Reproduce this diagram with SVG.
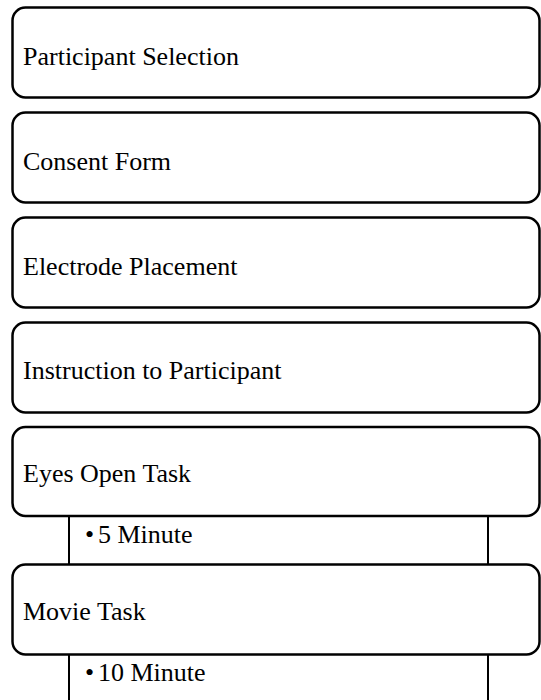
<svg xmlns="http://www.w3.org/2000/svg" width="541" height="700" viewBox="0 0 541 700">
<style>
.box{fill:#fff;stroke:#000;stroke-width:2.5}
.sub{fill:#fff;stroke:#000;stroke-width:2}
.t{font-family:"Liberation Serif","Times New Roman",serif;font-size:26px;fill:#000}
</style>
<rect width="541" height="700" fill="#fff"/>
<g id="connectors">
<rect id="sub1" class="sub" x="69" y="505" width="419" height="70"/>
<rect id="sub2" class="sub" x="69" y="645" width="419" height="70"/>
</g>
<g id="n1"><rect class="box" x="12.5" y="7.5" width="527" height="90" rx="13"/><text class="t" x="23" y="65">Participant Selection</text></g>
<g id="n2"><rect class="box" x="12.5" y="112.5" width="527" height="90" rx="13"/><text class="t" x="23" y="170">Consent Form</text></g>
<g id="n3"><rect class="box" x="12.5" y="217.5" width="527" height="90" rx="13"/><text class="t" x="23" y="275">Electrode Placement</text></g>
<g id="n4"><rect class="box" x="12.5" y="322.5" width="527" height="90" rx="13"/><text class="t" x="23" y="379">Instruction to Participant</text></g>
<g id="n5"><rect class="box" x="12.5" y="427" width="527" height="89" rx="13"/><text class="t" x="23" y="482">Eyes Open Task</text></g>
<g id="n5sub"><text class="t" x="85" y="543">•</text><text class="t" x="98" y="543">5 Minute</text></g>
<g id="n6"><rect class="box" x="12.5" y="564.5" width="527" height="90" rx="13"/><text class="t" x="23" y="620">Movie Task</text></g>
<g id="n6sub"><text class="t" x="85" y="681">•</text><text class="t" x="98" y="681">10 Minute</text></g>
</svg>
